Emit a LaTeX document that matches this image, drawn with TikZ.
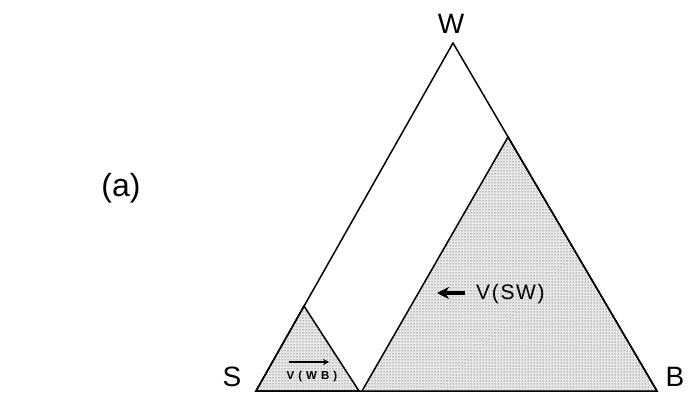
\documentclass[tikz,border=0pt]{standalone}
\usepackage{fontspec}
\setmainfont{Liberation Sans}
\usetikzlibrary{patterns,arrows.meta}
\begin{document}
\begin{tikzpicture}[x=1pt,y=-1pt,
  edge/.style={line width=1.5pt, line join=miter},
  shaded/.style={fill=black!9, postaction={pattern=dots, pattern color=black!80}},
  biglbl/.style={font=\fontsize{28}{28}\selectfont, inner sep=0pt},
  vlbl/.style={font=\fontsize{21}{21}\selectfont\addfontfeature{LetterSpace=8}, inner sep=0pt},
  smalllbl/.style={font=\bfseries\fontsize{11.5}{11.5}\selectfont\addfontfeature{LetterSpace=35}, inner sep=0pt},
  varrow/.style={line width=#1, -{Stealth[length=3*#1, width=3*#1]}}]
\useasboundingbox (0,0) rectangle (689,396);
% corners
\coordinate (Sc) at (256,391);
\coordinate (Wc) at (453,43);
\coordinate (Bc) at (657,391);
\coordinate (s1) at (304,306);
\coordinate (s2) at (359,391);
\coordinate (l1) at (362,391);
\coordinate (l2) at (508,137);
% shaded regions
\fill[shaded] (Sc) -- (s1) -- (s2) -- cycle;
\fill[shaded] (l1) -- (l2) -- (Bc) -- cycle;
\draw[edge] (Sc) -- (s1) -- (s2) -- cycle;
\draw[edge] (l1) -- (l2) -- (Bc);
% outer triangle
\draw[edge] (Sc) -- (Wc) -- (Bc) -- cycle;
% labels
\node[biglbl] (W) at (451,24) {W};
\node[biglbl] (S) at (232,377) {S};
\node[biglbl] (B) at (675,377) {B};
\node[biglbl, font=\fontsize{32}{32}\selectfont] (a) at (121,188) {(a)};
% velocity labels
\coordinate (t1) at (465,293);
\coordinate (h1) at (437,293);
\draw[varrow=4pt] (t1) -- (h1);
\node[vlbl, anchor=west] (vsw) at (476,294) {V(SW)};
\coordinate (t2) at (289,362);
\coordinate (h2) at (329,362);
\draw[varrow=2pt] (t2) -- (h2);
\node[smalllbl] (vwb) at (312,377) {V(WB)};
\end{tikzpicture}
\end{document}
